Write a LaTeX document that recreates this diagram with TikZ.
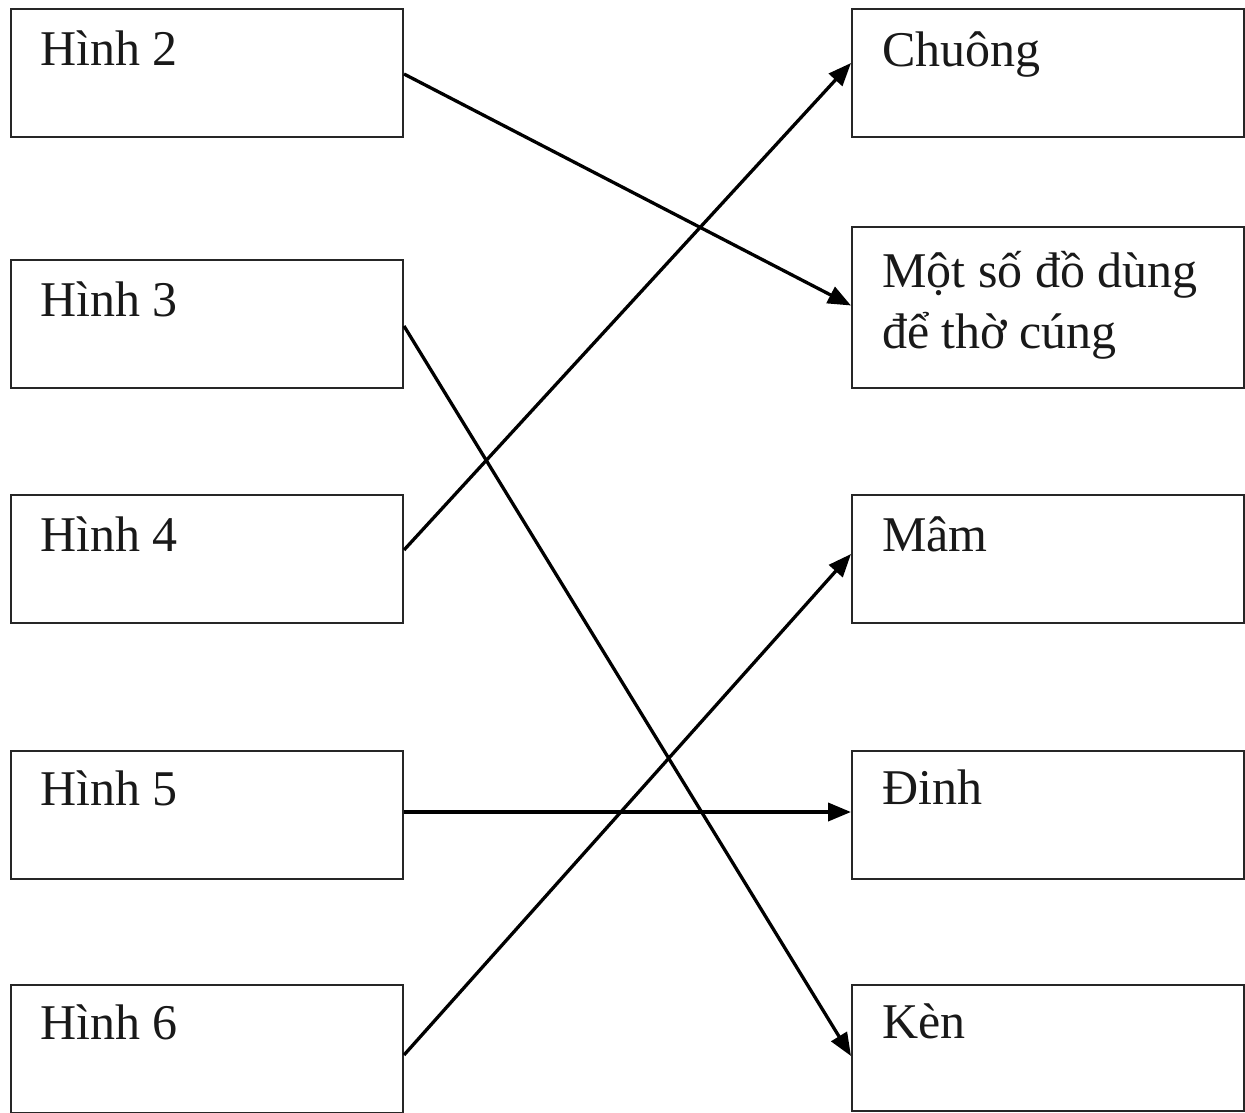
\documentclass[tikz,border=0pt]{standalone}
\usepackage{fontspec}
\setmainfont{Liberation Serif}
\usetikzlibrary{arrows.meta,calc}
\begin{document}
\begin{tikzpicture}[x=1pt,y=-1pt,
  box/.style={draw=black!85,line width=2pt,rectangle,minimum width=392pt,minimum height=128pt,anchor=north west,inner sep=0pt},
  lbl/.style={anchor=base west,inner sep=0pt,font=\fontsize{50}{61}\selectfont,text=black!90},
  conn/.style={line width=3.3pt,-{Triangle[length=23pt,width=18pt]}}]
\useasboundingbox (0,0) rectangle (1245,1112);
% left boxes
\node[box] (h2) at (10,8) {};
\node[box] (h3) at (10,259) {};
\node[box] (h4) at (10,494) {};
\node[box] (h5) at (10,750) {};
\node[box] (h6) at (10,984) {};
% right boxes
\node[box] (chuong) at (851,8) {};
\node[box,minimum height=161pt] (mot) at (851,226) {};
\node[box] (mam) at (851,494) {};
\node[box] (dinh) at (851,750) {};
\node[box,minimum height=126pt] (ken) at (851,984) {};
% labels
\node[lbl] (t2) at ($(h2.north west)+(30,57)$) {Hình 2};
\node[lbl] (t3) at ($(h3.north west)+(30,57)$) {Hình 3};
\node[lbl] (t4) at ($(h4.north west)+(30,57)$) {Hình 4};
\node[lbl] (t5) at ($(h5.north west)+(30,55)$) {Hình 5};
\node[lbl] (t6) at ($(h6.north west)+(30,55)$) {Hình 6};
\node[lbl] (tc) at ($(chuong.north west)+(31,58)$) {Chuông};
\node[lbl] (tm1) at ($(mot.north west)+(31,61)$) {Một số đồ dùng};
\node[lbl] (tm2) at ($(mot.north west)+(31,122)$) {đ^^^^1ec3 thờ cúng};
\node[lbl] (tma) at ($(mam.north west)+(31,57)$) {Mâm};
\node[lbl] (td) at ($(dinh.north west)+(31,54)$) {Đinh};
\node[lbl] (tk) at ($(ken.north west)+(31,54)$) {Kèn};
% connectors
\draw[conn] ([yshift=-1pt]h2.east) -- ([yshift=2pt]mot.west);
\draw[conn] ([yshift=-2pt]h3.east) -- ([yshift=-8pt]ken.west);
\draw[conn] ([yshift=9pt]h4.east) -- ([yshift=10pt]chuong.west);
\draw[conn,line width=3.8pt] ([yshift=3pt]h5.east) -- ([yshift=3pt]dinh.west);
\draw[conn] ([yshift=-6pt]h6.east) -- ([yshift=5pt]mam.west);
\end{tikzpicture}
\end{document}
